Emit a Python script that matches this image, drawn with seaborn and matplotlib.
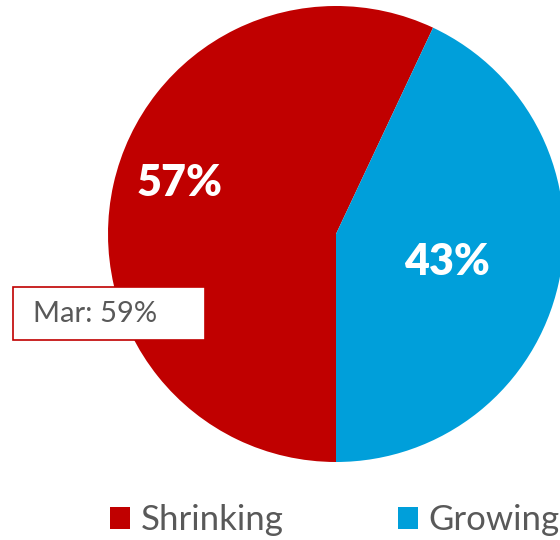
import matplotlib
matplotlib.use("Agg")
import matplotlib.pyplot as plt
import seaborn as sns
from matplotlib.patches import Rectangle, Patch

#data
labels = ["Shrinking", "Growing"]
shares = [57, 43]
colors = ["#C00000", "#009FDA"]
prev_label = "Mar: 59%"

sns.set_theme(style="white")
plt.rcParams['font.family'] = ['Lato', 'DejaVu Sans']

fig = plt.figure(figsize=(5.6, 5.4), dpi=100)
ax = fig.add_axes([0, 0, 1, 1])

cx, cy = 336, 306
wedges, texts, autotexts = ax.pie(
    shares,
    colors=colors,
    startangle=270,
    counterclock=False,
    center=(cx, cy),
    radius=228,
    autopct="%d%%",
    frame=True,
    wedgeprops=dict(linewidth=0),
    textprops=dict(color="white", fontsize=31, fontweight="heavy"),
)
#label placement like the original
autotexts[0].set_position((cx - 156, cy + 51))
autotexts[1].set_position((cx + 111, cy - 28))

ax.set_xlim(0, 560)
ax.set_ylim(0, 540)
ax.axis("off")

#previous month box
ax.add_patch(Rectangle((13, 200), 192, 53, facecolor="white", edgecolor="#C00000", lw=1.2, zorder=5))
ax.text(33, 226.5, prev_label, fontsize=21, color="#595959", va="center", ha="left", zorder=6)

handles = [Patch(facecolor=c, edgecolor="none") for c in colors]
ax.legend(handles, labels, loc="center", bbox_to_anchor=(335 / 560, 20 / 540), ncol=2,
          frameon=False, fontsize=25, labelcolor="#595959", handlelength=0.58, handleheight=0.58,
          handletextpad=0.3, columnspacing=3.3)

plt.savefig("out.png", dpi=100)
